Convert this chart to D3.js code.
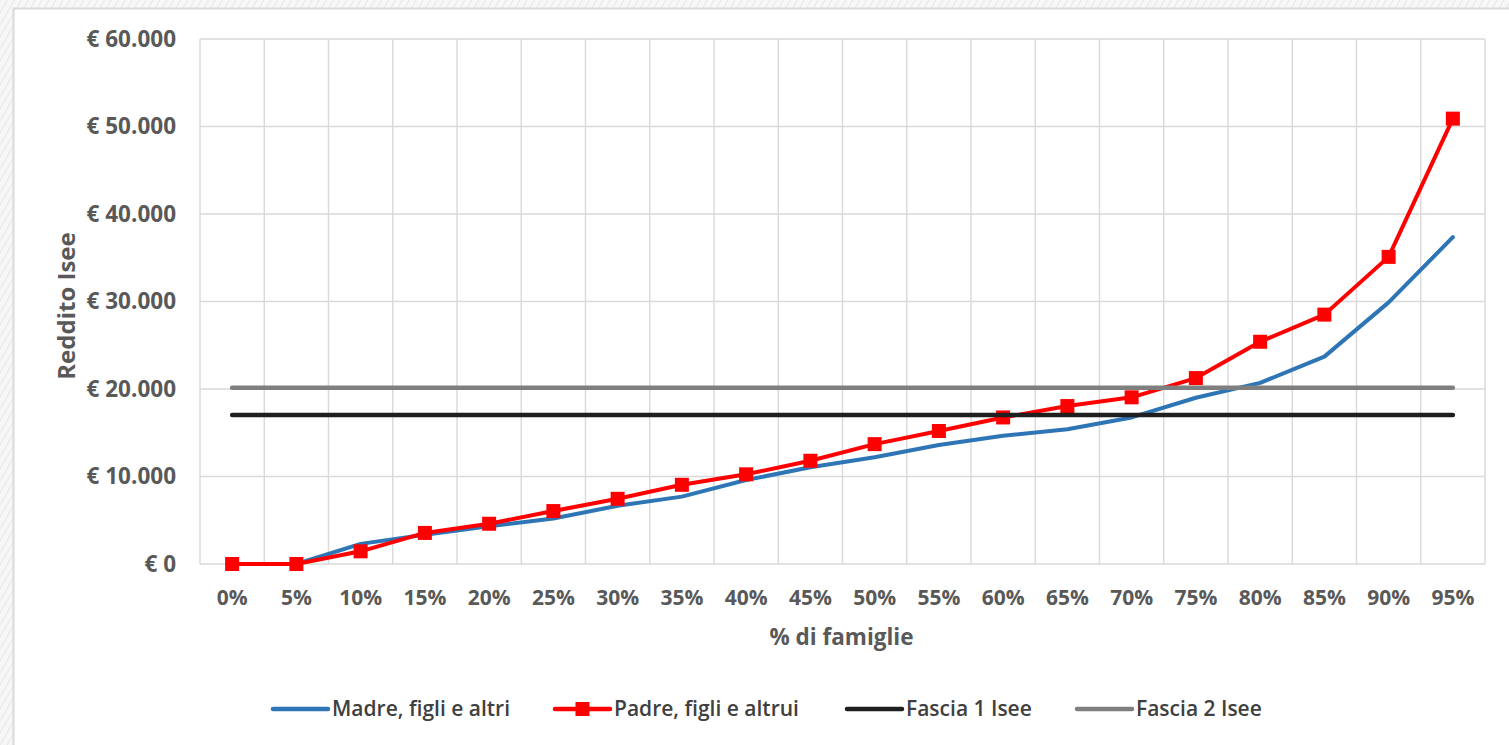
<!DOCTYPE html>
<html>
<head>
<meta charset="utf-8">
<script src="https://cdn.jsdelivr.net/npm/d3@7"></script>
<style>
  html, body { margin: 0; padding: 0; background: #fff; }
  svg { display: block; }
</style>
</head>
<body>
<svg id="chart" width="1509" height="745"></svg>
<script>
// Percentile of families (x categories)
const categories = ["0%","5%","10%","15%","20%","25%","30%","35%","40%","45%",
                    "50%","55%","60%","65%","70%","75%","80%","85%","90%","95%"];

// ISEE income by percentile, mother-headed households
const madreValues = [0, 0, 2300, 3350, 4300, 5200, 6650, 7700, 9600, 11050,
                     12200, 13600, 14650, 15400, 16750, 19000, 20700, 23700, 29900, 37350];

// ISEE income by percentile, father-headed households
const padreValues = [0, 0, 1450, 3550, 4600, 6050, 7450, 9050, 10250, 11800,
                     13700, 15200, 16750, 18050, 19050, 21250, 25400, 28500, 35100, 50900];

// ISEE band thresholds
const fascia1Value = 17030;
const fascia2Value = 20150;

const yTicks = [0, 10000, 20000, 30000, 40000, 50000, 60000];

const seriesNames = ["Madre, figli e altri", "Padre, figli e altrui", "Fascia 1 Isee", "Fascia 2 Isee"];

const svg = d3.select("#chart");
const W = 1509, H = 745;

// hatched page background behind the chart frame
const defs = svg.append("defs");
const pat = defs.append("pattern")
  .attr("id", "hatch").attr("patternUnits", "userSpaceOnUse")
  .attr("width", 6).attr("height", 6)
  .attr("patternTransform", "rotate(30)");
pat.append("rect").attr("width", 6).attr("height", 6).attr("fill", "#f7f7f7");
pat.append("line").attr("x1", 0).attr("y1", 0).attr("x2", 0).attr("y2", 6)
  .attr("stroke", "#e6e6e6").attr("stroke-width", 2);
svg.append("rect").attr("width", W).attr("height", H).attr("fill", "url(#hatch)");

// chart frame
svg.append("rect")
  .attr("x", 13.5).attr("y", 8.5).attr("width", W + 20).attr("height", H + 20)
  .attr("fill", "#fff").attr("stroke", "#d9d9d9").attr("stroke-width", 2);

const plot = { left: 200, right: 1485, top: 39, bottom: 564 };

const x = d3.scaleBand().domain(categories).range([plot.left, plot.right]).padding(0);
const y = d3.scaleLinear().domain([0, 60000]).range([plot.bottom, plot.top]);
const cx = c => x(c) + x.bandwidth() / 2;

const labelColor = "#595959";
const fontFamily = "'Open Sans', 'Noto Sans', sans-serif";

// gridlines
const grid = svg.append("g").attr("stroke", "#d9d9d9").attr("stroke-width", 1.4);
grid.selectAll("line.h").data(yTicks).join("line")
  .attr("x1", plot.left).attr("x2", plot.right)
  .attr("y1", d => y(d)).attr("y2", d => y(d));
const xEdges = categories.map(c => x(c)).concat([plot.right]);
grid.selectAll("line.v").data(xEdges).join("line")
  .attr("x1", d => d).attr("x2", d => d)
  .attr("y1", plot.top).attr("y2", plot.bottom);

// y axis
const itLocale = d3.formatLocale({ decimal: ",", thousands: ".", grouping: [3], currency: ["€ ", ""] });
const fmt = itLocale.format(",.0f");
const yAxis = d3.axisLeft(y).tickValues(yTicks).tickSize(0).tickPadding(24)
  .tickFormat(d => "€ " + fmt(d));
const gy = svg.append("g").attr("transform", `translate(${plot.left},0)`).call(yAxis);
gy.select(".domain").remove();
gy.selectAll("text")
  .attr("fill", labelColor).attr("font-family", fontFamily)
  .attr("font-size", 22.5).attr("font-weight", 700);

// x axis
const xAxis = d3.axisBottom(x).tickSize(0).tickPadding(26);
const gx = svg.append("g").attr("transform", `translate(0,${plot.bottom})`).call(xAxis);
gx.select(".domain").remove();
gx.selectAll("text")
  .attr("fill", labelColor).attr("font-family", fontFamily)
  .attr("font-size", 21).attr("font-weight", 700);

// axis titles
svg.append("text")
  .attr("transform", "translate(75,306) rotate(-90)")
  .attr("text-anchor", "middle")
  .attr("fill", labelColor).attr("font-family", fontFamily)
  .attr("font-size", 24).attr("font-weight", 700)
  .text("Reddito Isee");
svg.append("text")
  .attr("x", (plot.left + plot.right) / 2 - 1).attr("y", 645)
  .attr("text-anchor", "middle")
  .attr("fill", labelColor).attr("font-family", fontFamily)
  .attr("font-size", 22.5).attr("font-weight", 700)
  .text("% di famiglie");

// series
const colors = ["#2e75b6", "#ff0000", "#1f1f1f", "#7f7f7f"];
const line = d3.line().x(d => cx(d.c)).y(d => y(d.v));
const toPts = vals => categories.map((c, i) => ({ c, v: vals[i] }));
const series = [
  toPts(madreValues),
  toPts(padreValues),
  toPts(categories.map(() => fascia1Value)),
  toPts(categories.map(() => fascia2Value))
];
const widths = [4, 4, 4.5, 4.5];

series.forEach((pts, i) => {
  svg.append("path").datum(pts)
    .attr("d", line)
    .attr("fill", "none")
    .attr("stroke", colors[i])
    .attr("stroke-width", widths[i])
    .attr("stroke-linejoin", "round")
    .attr("stroke-linecap", "round");
  if (i === 1) {
    const m = 14;
    svg.append("g").selectAll("rect").data(pts).join("rect")
      .attr("x", d => cx(d.c) - m / 2).attr("y", d => y(d.v) - m / 2)
      .attr("width", m).attr("height", m)
      .attr("fill", colors[1]);
  }
});

// legend
const legendY = 709;
const legendX = [273, 555, 847, 1077];
const lg = svg.append("g");
seriesNames.forEach((name, i) => {
  const x0 = legendX[i];
  lg.append("line")
    .attr("x1", x0).attr("x2", x0 + 55)
    .attr("y1", legendY).attr("y2", legendY)
    .attr("stroke", colors[i]).attr("stroke-width", 4.5)
    .attr("stroke-linecap", "round");
  if (i === 1) {
    lg.append("rect")
      .attr("x", x0 + 27.5 - 7).attr("y", legendY - 7)
      .attr("width", 14).attr("height", 14).attr("fill", colors[1]);
  }
  lg.append("text")
    .attr("x", x0 + 59).attr("y", legendY)
    .attr("dy", "0.35em")
    .attr("fill", "#404040").attr("font-family", fontFamily)
    .attr("font-size", 21).attr("font-weight", 600)
    .text(name);
});
</script>
</body>
</html>
